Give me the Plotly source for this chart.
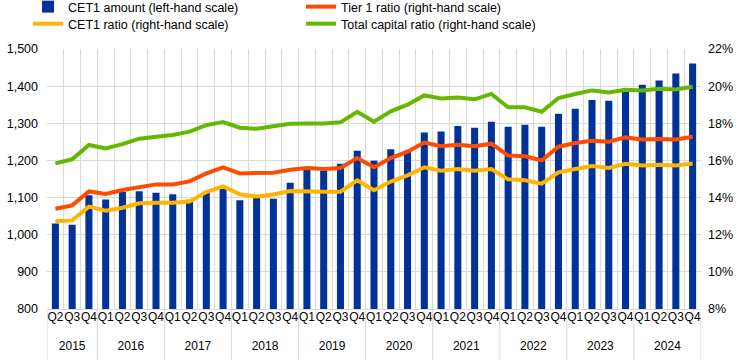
import plotly.graph_objects as go

years = ["2015"] * 3 + [y for y in ["2016", "2017", "2018", "2019", "2020", "2021", "2022", "2023", "2024"] for _ in range(4)]
quarters = ["Q2", "Q3", "Q4"] + ["Q1", "Q2", "Q3", "Q4"] * 9

cet1_amount = [1030, 1027, 1106, 1095, 1115, 1117, 1113, 1109, 1094, 1114, 1123,
               1093, 1099, 1097, 1140, 1175, 1172, 1191, 1226, 1199, 1230, 1222,
               1275, 1278, 1293, 1288, 1304, 1291, 1296, 1291, 1326, 1339, 1363,
               1361, 1388, 1404, 1415, 1434, 1461]
tier1_ratio = [13.40, 13.58, 14.33, 14.19, 14.41, 14.57, 14.71, 14.71, 14.87, 15.30, 15.63,
               15.30, 15.30, 15.34, 15.50, 15.59, 15.54, 15.59, 16.13, 15.63, 16.13, 16.47,
               16.96, 16.76, 16.85, 16.76, 16.90, 16.26, 16.22, 16.00, 16.74, 16.94, 17.06,
               17.01, 17.24, 17.13, 17.16, 17.13, 17.28]
cet1_ratio = [12.72, 12.77, 13.51, 13.29, 13.45, 13.69, 13.72, 13.72, 13.79, 14.30, 14.60,
              14.17, 14.06, 14.17, 14.35, 14.32, 14.32, 14.32, 14.93, 14.39, 14.86, 15.20,
              15.63, 15.45, 15.54, 15.45, 15.54, 14.98, 14.93, 14.75, 15.36, 15.54, 15.70,
              15.59, 15.82, 15.73, 15.77, 15.73, 15.84]
total_ratio = [15.84, 16.06, 16.83, 16.65, 16.88, 17.17, 17.28, 17.37, 17.55, 17.90, 18.07,
               17.76, 17.71, 17.82, 17.98, 17.99, 17.99, 18.05, 18.62, 18.09, 18.64, 19.00,
               19.50, 19.34, 19.39, 19.29, 19.58, 18.86, 18.86, 18.62, 19.36, 19.58, 19.77,
               19.66, 19.81, 19.77, 19.86, 19.82, 19.97]

left_ticks = [800, 900, 1000, 1100, 1200, 1300, 1400, 1500]
right_ticks = [8, 10, 12, 14, 16, 18, 20, 22]
right_tick_labels = ["8%", "10%", "12%", "14%", "16%", "18%", "20%", "22%"]

FONT = "Arial, Liberation Sans, sans-serif"
GRID = "#d9d9d9"

n = len(quarters)
xi = list(range(n))

# year groups derived from the category arrays
year_names, year_start, year_end = [], [], []
for i, y in enumerate(years):
    if not year_names or year_names[-1] != y:
        year_names.append(y)
        year_start.append(i)
        year_end.append(i)
    else:
        year_end[-1] = i
year_centers = [(s + e) / 2 for s, e in zip(year_start, year_end)]
year_bounds = [year_start[0] - 0.5] + [e + 0.5 for e in year_end]

fig = go.Figure()
fig.add_trace(go.Bar(x=xi, y=cet1_amount, name="CET1 amount (left-hand scale)",
                     marker=dict(color="#003299", line=dict(width=0)), yaxis="y",
                     legend="legend"))
fig.add_trace(go.Scatter(x=xi, y=tier1_ratio, name="Tier 1 ratio (right-hand scale)",
                         mode="lines", line=dict(color="#FF4B00", width=4), yaxis="y2",
                         legend="legend2"))
fig.add_trace(go.Scatter(x=xi, y=cet1_ratio, name="CET1 ratio (right-hand scale)",
                         mode="lines", line=dict(color="#FFB400", width=4), yaxis="y2",
                         legend="legend3"))
fig.add_trace(go.Scatter(x=xi, y=total_ratio, name="Total capital ratio (right-hand scale)",
                         mode="lines", line=dict(color="#65B800", width=4), yaxis="y2",
                         legend="legend4"))
# invisible carrier for the year axis
fig.add_trace(go.Scatter(x=[xi[0], xi[-1]], y=[None, None], xaxis="x2", yaxis="y",
                         showlegend=False, hoverinfo="skip", mode="lines"))

shapes = [dict(type="line", xref="x", yref="paper", x0=b, x1=b, y0=0, y1=-0.2,
               line=dict(color=GRID, width=1), layer="below") for b in year_bounds]

leg_common = dict(orientation="h", xanchor="left", yanchor="middle",
                  font=dict(size=12.5), itemwidth=30, bgcolor="rgba(0,0,0,0)")
COL1, COL2 = -0.029, 0.3884
ROW1, ROW2 = 1.1615, 1.096

fig.update_layout(
    width=753, height=360,
    margin=dict(l=47, r=52, t=49, b=51, autoexpand=False),
    paper_bgcolor="white", plot_bgcolor="white",
    font=dict(family=FONT, size=12, color="#000000"),
    bargap=0.58,
    showlegend=True,
    legend=dict(x=COL1, y=ROW1, **leg_common),
    legend2=dict(x=COL2, y=ROW1, **leg_common),
    legend3=dict(x=COL1, y=ROW2, **leg_common),
    legend4=dict(x=COL2, y=ROW2, **leg_common),
    xaxis=dict(range=[-0.5, n - 0.5], tickvals=xi, ticktext=quarters, tickangle=0,
               showgrid=False, showline=True, linecolor=GRID, ticks="", zeroline=False,
               minor=dict(tick0=-0.5, dtick=1, showgrid=True, gridcolor=GRID, gridwidth=1, ticks=""),
               tickfont=dict(size=12), ticklabelstandoff=-3),
    xaxis2=dict(range=[-0.5, n - 0.5], overlaying="x", anchor="y", side="bottom",
                tickvals=year_centers, ticktext=year_names, tickangle=0, showgrid=False,
                showline=False, ticks="", zeroline=False, ticklabelstandoff=28,
                tickfont=dict(size=12)),
    yaxis=dict(range=[800, 1500], tickvals=left_ticks, tickformat=",", showgrid=True,
               gridcolor=GRID, zeroline=False, ticks="", showline=False,
               ticklabelstandoff=8, tickfont=dict(size=12.5)),
    yaxis2=dict(range=[8, 22], tickvals=right_ticks, ticktext=right_tick_labels, overlaying="y",
                side="right", showgrid=False, zeroline=False, ticks="", showline=False,
                ticklabelstandoff=6, tickfont=dict(size=12.5)),
    shapes=shapes,
)

fig.write_html("out.html", config={"displayModeBar": False},
               post_script="document.body.style.margin='0';document.body.style.overflow='hidden';")
